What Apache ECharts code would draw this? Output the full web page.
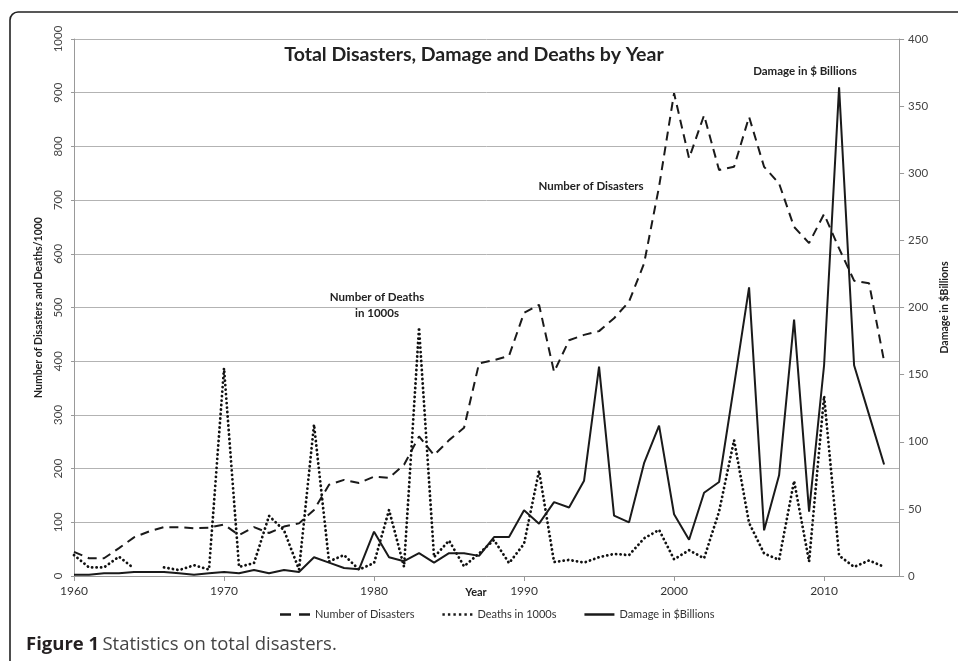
<!DOCTYPE html>
<html>
<head>
<meta charset="utf-8">
<script src="https://cdn.jsdelivr.net/npm/echarts@6/dist/echarts.min.js"></script>
<style>
html,body{margin:0;padding:0;background:#fff;}
#c{width:958px;height:661px;}
</style>
</head>
<body>
<div id="c"></div>
<script>
const years = [1960,1961,1962,1963,1964,1965,1966,1967,1968,1969,
  1970,1971,1972,1973,1974,1975,1976,1977,1978,1979,
  1980,1981,1982,1983,1984,1985,1986,1987,1988,1989,
  1990,1991,1992,1993,1994,1995,1996,1997,1998,1999,
  2000,2001,2002,2003,2004,2005,2006,2007,2008,2009,
  2010,2011,2012,2013,2014];
const disasters = [45,33,33,52,72,83,91,91,89,90,
  96,76,91,80,92,98,123,170,179,173,
  185,183,207,260,225,253,276,396,402,410,
  490,505,380,439,449,456,480,511,582,725,
  899,778,858,756,762,855,762,731,650,620,
  674,610,550,545,400];
const deaths = [39,16,16,36,14,null,16,11,20,12,
  387,17,24,112,85,12,282,27,39,12,
  24,123,17,463,35,66,18,42,67,24,
  60,196,26,30,25,35,41,39,70,86,
  31,48,33,120,253,99,42,30,177,27,
  335,38,17,29,17];
const damage = [1,1,2,2,3,3,3,2,1,2,
  3,2,4.5,2,4.5,3,14,10,6,5,
  33,14,11,17,10,17,17,15,29,29,
  49,39,55,51,71,156,45,40,84,112,
  46,27,62,70,142,215,34,75,191,48,
  157,364,157,120,83];
const leftTicks = {min:0, max:1000, interval:100};
const rightTicks = {min:0, max:400, interval:50};
const xTicks = {min:1960, max:2015, interval:10};
const seriesNames = ['Number of Disasters','Deaths in 1000s','Damage in $Billions'];

const pairs = (vals) => years.map((y,i) => [y, vals[i]]);
const FONT = 'Lato';
const ICON_DASH = 'path://M0,0h11v2.5h-11z M19,0h11v2.5h-11z';
const ICON_DOT = 'path://M0,0h2.4v2.5h-2.4z M5.5,0h2.4v2.5h-2.4z M11,0h2.4v2.5h-2.4z M16.5,0h2.4v2.5h-2.4z M22,0h2.4v2.5h-2.4z M27.6,0h2.4v2.5h-2.4z';
const ICON_SOLID = 'path://M0,0h30v2.5h-30z';
const chart = echarts.init(document.getElementById('c'));
chart.setOption({
  animation:false,
  backgroundColor:'#fff',
  textStyle:{fontFamily:FONT},
  grid:{left:74, right:56, top:39, bottom:85},
  xAxis:{
    type:'value', min:xTicks.min, max:xTicks.max, interval:xTicks.interval,
    axisLine:{show:true, onZero:false, lineStyle:{color:'#999', width:1}},
    axisTick:{show:true, length:5, lineStyle:{color:'#999'}},
    axisLabel:{color:'#333', fontSize:12, margin:9, showMaxLabel:false, fontFamily:FONT, formatter:(v)=>String(v)},
    splitLine:{show:false}
  },
  yAxis:[{
    type:'value', min:leftTicks.min, max:leftTicks.max, interval:leftTicks.interval,
    name:'Number of Disasters and Deaths/1000', nameLocation:'middle', nameRotate:90, nameGap:27,
    nameTextStyle:{fontWeight:'bold', fontSize:10.5, color:'#222', fontFamily:FONT},
    axisLine:{show:true, lineStyle:{color:'#999'}},
    axisTick:{show:true, length:3, lineStyle:{color:'#999'}},
    axisLabel:{rotate:90, color:'#444', fontSize:11.5, margin:10, fontFamily:FONT, formatter:(v)=>String(v)},
    splitLine:{show:true, lineStyle:{color:'#b3b3b3', width:1}}
  },{
    type:'value', min:rightTicks.min, max:rightTicks.max, interval:rightTicks.interval,
    position:'right',
    name:'Damage in $Billions', nameLocation:'middle', nameRotate:90, nameGap:29,
    nameTextStyle:{fontWeight:'bold', fontSize:10.5, color:'#222', fontFamily:FONT},
    axisLine:{show:true, lineStyle:{color:'#999'}},
    axisTick:{show:true, length:5, lineStyle:{color:'#999'}},
    axisLabel:{color:'#444', fontSize:11.5, margin:9, fontFamily:FONT},
    splitLine:{show:false}
  }],
  legend:{
    left:275, top:604, itemWidth:30, itemHeight:2.5, itemGap:28,
    textStyle:{color:'#333', fontSize:11, fontFamily:FONT},
    data:[
      {name:seriesNames[0], icon:ICON_DASH},
      {name:seriesNames[1], icon:ICON_DOT},
      {name:seriesNames[2], icon:ICON_SOLID}
    ]
  },
  series:[{
    name:seriesNames[0], type:'line', yAxisIndex:0, data:pairs(disasters),
    symbol:'none', lineStyle:{color:'#1a1a1a', width:2, type:[9,6]}, itemStyle:{color:'#1a1a1a'}
  },{
    name:seriesNames[1], type:'line', yAxisIndex:0, data:pairs(deaths), connectNulls:false,
    symbol:'none', lineStyle:{color:'#111', width:2.8, type:[0.1,4.4], cap:'round'}, itemStyle:{color:'#1a1a1a'}
  },{
    name:seriesNames[2], type:'line', yAxisIndex:1, data:pairs(damage),
    symbol:'none', lineStyle:{color:'#1a1a1a', width:2}, itemStyle:{color:'#1a1a1a'}
  }],
  graphic:[
    {type:'rect', shape:{x:10, y:12, width:990, height:700, r:8}, style:{fill:'none', stroke:'#222', lineWidth:1.6}, z:-1},
    {type:'text', x:474, y:55, style:{text:'Total Disasters, Damage and Deaths by Year', font:'bold 19.5px Lato', fill:'#222', textAlign:'center', textVerticalAlign:'middle'}},
    {type:'text', x:805, y:71, style:{text:'Damage in $ Billions', font:'bold 11.5px Lato', fill:'#222', textAlign:'center', textVerticalAlign:'middle'}},
    {type:'text', x:591, y:186, style:{text:'Number of Disasters', font:'bold 11.5px Lato', fill:'#222', textAlign:'center', textVerticalAlign:'middle'}},
    {type:'text', x:377, y:297, style:{text:'Number of Deaths', font:'bold 11.5px Lato', fill:'#222', textAlign:'center', textVerticalAlign:'middle'}},
    {type:'text', x:377, y:313, style:{text:'in 1000s', font:'bold 11.5px Lato', fill:'#222', textAlign:'center', textVerticalAlign:'middle'}},
    {type:'text', x:476, y:592, style:{text:'Year', font:'bold 11px Lato', fill:'#222', textAlign:'center', textVerticalAlign:'middle'}},
    {type:'text', x:26, y:645, style:{
      text:'{b|Figure 1} {r|Statistics on total disasters.}',
      rich:{b:{font:'bold 18.5px "Open Sans"', fill:'#231f20'}, r:{font:'18.5px "Open Sans"', fill:'#444'}},
      textVerticalAlign:'middle'}}
  ]
});
</script>
</body>
</html>
